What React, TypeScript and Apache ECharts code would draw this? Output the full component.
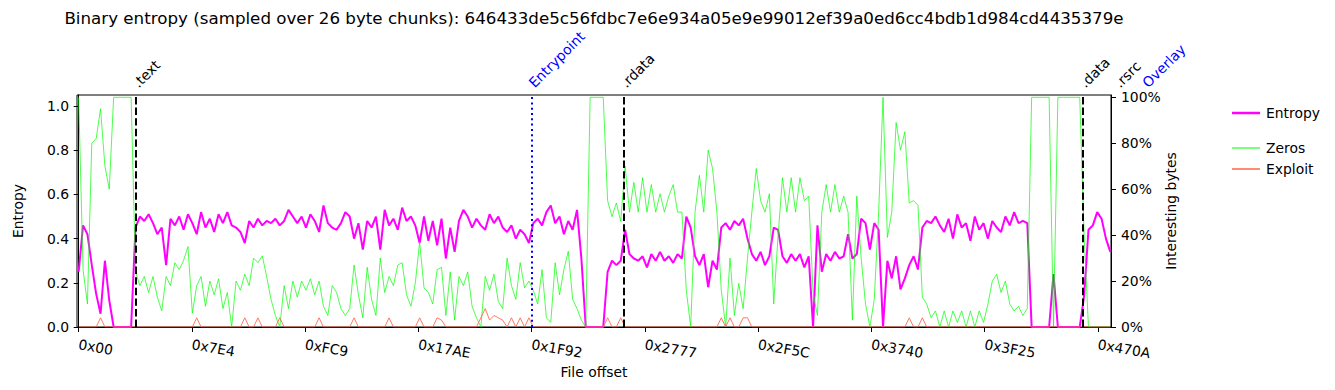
import React, { useEffect, useRef } from 'react';
import * as echarts from 'echarts';

const CHUNK_BYTES = 26;
const SAMPLE_CHUNKS = 3; // each listed value below spans 3 chunks of the file
const TITLE =
  'Binary entropy (sampled over 26 byte chunks): 646433de5c56fdbc7e6e934a05e9e99012ef39a0ed6cc4bdb1d984cd4435379e';

const X_TICKS = [0, 2020, 4041, 6062, 8082, 10103, 12124, 14144, 16165, 18186];
const ENTROPY_TICKS = [0, 0.2, 0.4, 0.6, 0.8, 1.0];
const PERCENT_TICKS = [0, 20, 40, 60, 80, 100];

const SECTION_NAMES = ['.text', 'Entrypoint', '.rdata', '.data', '.rsrc', 'Overlay'];
const SECTION_OFFSETS = [1024, 8090, 9728, 17920, 18540, 19040];
const SECTION_COLORS = ['#000000', '#0000ff', '#000000', '#000000', '#000000', '#0000ff'];
const SECTION_DOTTED = [false, true, false, false, false, true];

const ENTROPY = [
  0.25, 0.46, 0.42, 0.28, 0.15, 0.06, 0.30, 0.12, 0, 0,
  0, 0, 0, 0.45, 0.50, 0.48, 0.51, 0.47, 0.42, 0.45,
  0.28, 0.49, 0.46, 0.50, 0.44, 0.51, 0.47, 0.42, 0.52, 0.45,
  0.49, 0.43, 0.51, 0.47, 0.52, 0.46, 0.45, 0.43, 0.38, 0.48,
  0.45, 0.49, 0.46, 0.48, 0.47, 0.49, 0.46, 0.48, 0.53, 0.50,
  0.47, 0.50, 0.45, 0.51, 0.48, 0.43, 0.55, 0.47, 0.45, 0.44,
  0.47, 0.52, 0.50, 0.40, 0.47, 0.35, 0.48, 0.45, 0.50, 0.35,
  0.53, 0.46, 0.49, 0.44, 0.54, 0.48, 0.50, 0.46, 0.38, 0.50,
  0.39, 0.48, 0.37, 0.49, 0.31, 0.45, 0.34, 0.48, 0.53, 0.50,
  0.45, 0.49, 0.46, 0.44, 0.51, 0.47, 0.50, 0.45, 0.43, 0.46,
  0.40, 0.44, 0.42, 0.38, 0.47, 0.49, 0.46, 0.52, 0.55, 0.47,
  0.50, 0.42, 0.48, 0.44, 0.53, 0.31, 0, 0, 0, 0,
  0, 0.25, 0.30, 0.28, 0.30, 0.44, 0.33, 0.31, 0.30, 0.32,
  0.27, 0.33, 0.30, 0.34, 0.30, 0.32, 0.29, 0.33, 0.31, 0.50,
  0.45, 0.32, 0.28, 0.33, 0.18, 0.30, 0.26, 0.45, 0.47, 0.44,
  0.48, 0.46, 0.49, 0.40, 0.33, 0.30, 0.34, 0.28, 0.32, 0.45,
  0.44, 0.32, 0.29, 0.33, 0.30, 0.33, 0.27, 0.32, 0, 0.46,
  0.25, 0.33, 0.30, 0.34, 0.31, 0.32, 0.42, 0.31, 0.33, 0.49,
  0.47, 0.35, 0.47, 0.44, 0, 0.30, 0.22, 0.32, 0.17, 0.22,
  0.28, 0.32, 0.26, 0.45, 0.48, 0.47, 0.50, 0.46, 0.43, 0.49,
  0.40, 0.51, 0.45, 0.47, 0.39, 0.50, 0.44, 0.47, 0.40, 0.48,
  0.45, 0.43, 0.50, 0.46, 0.52, 0.47, 0.48, 0.47, 0, 0,
  0, 0, 0, 0.24, 0, 0, 0, 0, 0, 0,
  0.14, 0.44, 0.46, 0.52, 0.49, 0.40, 0.34,
];

const ZEROS = [
  100, 25, 10, 80, 82, 95, 70, 60, 100, 100,
  100, 100, 100, 24, 18, 22, 15, 22, 13, 7,
  22, 18, 28, 25, 29, 35, 6, 18, 22, 9,
  20, 14, 21, 8, 15, 0, 20, 16, 23, 18,
  30, 28, 31, 22, 12, 5, 0, 18, 8, 20,
  13, 20, 16, 21, 14, 20, 9, 5, 18, 15,
  8, 5, 8, 27, 14, 4, 26, 12, 5, 30,
  15, 22, 18, 27, 28, 14, 9, 19, 37, 17,
  15, 10, 25, 26, 5, 24, 3, 22, 18, 24,
  9, 4, 0, 22, 16, 23, 11, 8, 30, 18,
  12, 28, 17, 20, 16, 10, 25, 4, 2, 28,
  14, 25, 33, 12, 8, 3, 0, 100, 100, 100,
  100, 55, 48, 54, 46, 70, 50, 63, 50, 65,
  50, 62, 50, 58, 50, 57, 62, 50, 50, 16,
  0, 50, 66, 50, 77, 69, 50, 16, 0, 30,
  5, 19, 8, 30, 50, 69, 55, 50, 58, 10,
  40, 65, 50, 65, 50, 65, 55, 57, 15, 5,
  50, 62, 50, 62, 50, 57, 50, 3, 57, 30,
  10, 0, 12, 50, 100, 39, 50, 89, 77, 85,
  54, 55, 53, 13, 10, 4, 7, 0, 7, 0,
  7, 2, 7, 0, 7, 0, 7, 2, 10, 20,
  23, 15, 20, 10, 7, 9, 5, 8, 100, 100,
  100, 100, 100, 0, 100, 100, 100, 100, 100, 100,
  40, 0, 0, 0, 0, 0, 0,
];

const EXPLOIT = [
  0, 0, 0, 0, 0, 4, 0, 0, 0, 0,
  0, 0, 0, 0, 0, 0, 0, 0, 0, 0,
  0, 0, 0, 0, 0, 0, 0, 4, 0, 0,
  0, 0, 0, 0, 0, 0, 0, 0, 4, 0,
  0, 4, 0, 0, 0, 0, 4, 0, 0, 0,
  0, 0, 0, 0, 0, 4, 0, 0, 0, 0,
  0, 0, 0, 4, 0, 0, 0, 0, 0, 0,
  0, 4, 0, 0, 0, 0, 0, 0, 4, 0,
  0, 0, 4, 3, 0, 0, 0, 0, 0, 0,
  0, 0, 4, 8, 3, 5, 4, 3, 0, 4,
  0, 4, 0, 4, 0, 0, 0, 0, 0, 0,
  0, 0, 0, 0, 0, 0, 0, 0, 0, 0,
  0, 4, 0, 0, 4, 0, 0, 0, 0, 0,
  0, 0, 0, 0, 0, 0, 0, 0, 0, 0,
  0, 0, 0, 0, 0, 0, 0, 4, 0, 4,
  0, 0, 4, 4, 0, 0, 0, 0, 0, 0,
  0, 0, 0, 0, 0, 0, 0, 0, 0, 0,
  0, 0, 0, 0, 0, 0, 0, 0, 0, 0,
  0, 0, 0, 0, 0, 0, 0, 0, 0, 0,
  4, 0, 0, 4, 0, 0, 0, 0, 0, 0,
  0, 0, 0, 0, 0, 0, 0, 0, 0, 0,
  0, 0, 0, 0, 0, 0, 0, 0, 0, 0,
  0, 0, 0, 0, 0, 0, 0, 0, 0, 0,
  0, 0, 0, 0, 0, 0, 0,
];

const X_MIN = -30;
const X_MAX = 18420;
const FONT = '"DejaVu Sans", Verdana, sans-serif';
const FS = 13.9;

const toPairs = (vals: number[]) => vals.map((v, i) => [i * CHUNK_BYTES * SAMPLE_CHUNKS, v]);
const hex = (v: number) => '0x' + Math.round(v).toString(16).toUpperCase().padStart(2, '0');

export default function App() {
  const ref = useRef<HTMLDivElement>(null);

  useEffect(() => {
    if (!ref.current) return;
    const chart = echarts.init(ref.current, null, { renderer: 'svg' });
    const txt = { fontFamily: FONT, fontSize: FS, color: '#000' };

    const markData = SECTION_OFFSETS.map((off, k) => ({ off, k }))
      .filter((d) => d.off <= X_MAX)
      .map(({ off, k }) => ({
        xAxis: off,
        lineStyle: {
          color: SECTION_COLORS[k],
          width: 2,
          type: SECTION_DOTTED[k] ? [2, 3.3] : [7.4, 3.2],
          opacity: 1,
        },
      }));

    const option: any = {
      animation: false,
      textStyle: { fontFamily: FONT, color: '#000' },
      title: {
        text: TITLE,
        left: 594,
        top: 9,
        textAlign: 'center',
        padding: 0,
        textStyle: { fontFamily: FONT, fontSize: 16.7, fontWeight: 'normal', color: '#000' },
      },
      grid: {
        left: 77,
        right: 224,
        top: 95,
        bottom: 63,
        show: true,
        borderColor: '#000',
        borderWidth: 1,
        backgroundColor: 'transparent',
        containLabel: false,
        outerBoundsMode: 'none',
      },
      legend: [
        {
          data: ['Entropy'],
          left: 1227,
          top: 101,
          orient: 'vertical',
          icon: 'rect',
          itemWidth: 28,
          itemHeight: 2.5,
          selectedMode: false,
          textStyle: { ...txt, padding: [0, 0, 0, 1] },
        },
        {
          data: ['Zeros', 'Exploit'],
          left: 1227,
          top: 136,
          orient: 'vertical',
          itemGap: 7,
          icon: 'rect',
          itemWidth: 28,
          itemHeight: 1.4,
          selectedMode: false,
          textStyle: { ...txt, padding: [0, 0, 0, 1] },
        },
      ],
      xAxis: {
        type: 'value',
        min: X_MIN,
        max: X_MAX,
        name: 'File offset',
        nameLocation: 'middle',
        nameGap: 38,
        nameMoveOverlap: false,
        nameTextStyle: txt,
        axisLine: { show: true, lineStyle: { color: '#000', width: 1 } },
        axisTick: { show: true, customValues: X_TICKS, length: 5, lineStyle: { color: '#000' } },
        axisLabel: { customValues: X_TICKS, rotate: -10, margin: 17, formatter: hex, ...txt },
        splitLine: { show: false },
      },
      yAxis: [
        {
          type: 'value',
          position: 'left',
          min: 0,
          max: 1.05,
          name: 'Entropy',
          nameLocation: 'middle',
          nameRotate: 90,
          nameGap: 52,
          nameMoveOverlap: false,
          nameTextStyle: txt,
          axisLine: { show: true, lineStyle: { color: '#000', width: 1 } },
          axisTick: { show: true, customValues: ENTROPY_TICKS, length: 5, lineStyle: { color: '#000' } },
          axisLabel: { customValues: ENTROPY_TICKS, margin: 8, formatter: (v: number) => v.toFixed(1), ...txt },
          splitLine: { show: false },
        },
        {
          type: 'value',
          position: 'right',
          min: 0,
          max: 101,
          name: 'Interesting bytes',
          nameLocation: 'middle',
          nameRotate: 90,
          nameGap: 53,
          nameMoveOverlap: false,
          nameTextStyle: txt,
          axisLine: { show: true, lineStyle: { color: '#000', width: 1 } },
          axisTick: { show: true, customValues: PERCENT_TICKS, length: 5, lineStyle: { color: '#000' } },
          axisLabel: { customValues: PERCENT_TICKS, margin: 10, formatter: (v: number) => Math.round(v) + '%', ...txt },
          splitLine: { show: false },
        },
      ],
      series: [
        {
          name: 'Entropy',
          type: 'line',
          yAxisIndex: 0,
          data: toPairs(ENTROPY),
          symbol: 'none',
          showSymbol: false,
          color: '#ff00ff',
          lineStyle: { width: 2, color: '#ff00ff' },
          silent: true,
          z: 2,
        },
        {
          name: 'Zeros',
          type: 'line',
          yAxisIndex: 1,
          data: toPairs(ZEROS),
          symbol: 'none',
          showSymbol: false,
          color: '#22ee22',
          itemStyle: { color: '#44ff44' },
          lineStyle: { width: 1, color: '#00ff00', opacity: 0.7 },
          silent: true,
          z: 3,
        },
        {
          name: 'Exploit',
          type: 'line',
          yAxisIndex: 1,
          data: toPairs(EXPLOIT),
          symbol: 'none',
          showSymbol: false,
          color: '#ff5a36',
          lineStyle: { width: 1, color: '#ff6347', opacity: 0.85 },
          silent: true,
          z: 4,
          markLine: {
            silent: true,
            symbol: ['none', 'none'],
            label: { show: false },
            animation: false,
            data: markData,
          },
        },
      ],
    };

    chart.setOption(option);

    const labels = SECTION_NAMES.map((name, k) => {
      const px = chart.convertToPixel({ xAxisIndex: 0 }, SECTION_OFFSETS[k]) as number;
      return {
        type: 'text',
        x: px + 4,
        y: 90,
        rotation: Math.PI / 4,
        silent: true,
        style: {
          text: name,
          x: 0,
          y: 0,
          fill: SECTION_COLORS[k],
          font: `${FS}px ${FONT}`,
          textAlign: 'left',
          textVerticalAlign: 'bottom',
          align: 'left',
          verticalAlign: 'bottom',
        },
      };
    });
    chart.setOption({ graphic: labels });

    return () => chart.dispose();
  }, []);

  return (
    <div
      ref={ref}
      style={{ position: 'absolute', left: 0, top: 0, width: 1335, height: 390, background: '#fff' }}
    />
  );
}
